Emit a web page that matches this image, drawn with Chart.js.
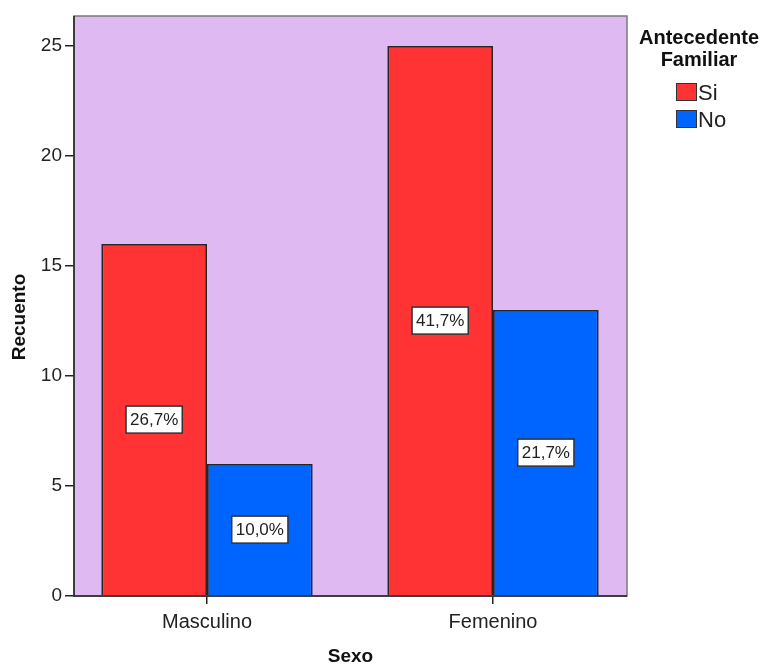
<!DOCTYPE html>
<html>
<head>
<meta charset="utf-8">
<script src="https://cdn.jsdelivr.net/npm/chart.js@4/dist/chart.umd.min.js"></script>
<style>
  html, body { margin: 0; padding: 0; background: #fff; }
</style>
</head>
<body>
<canvas id="myChart" width="768" height="666"></canvas>
<script>
// data
const categories = ["Masculino", "Femenino"];
const seriesNames = ["Si", "No"];
const siValues = [16, 25];
const noValues = [6, 13];
const yTicks = [0, 5, 10, 15, 20, 25];
const legendTitle = ["Antecedente", "Familiar"];

const FONT = "'Liberation Sans', Arial, sans-serif";
const colors = ["rgb(255,51,51)", "rgb(0,100,255)"];
const total = siValues.concat(noValues).reduce((a, b) => a + b, 0);
const pct = v => (v / total * 100).toFixed(1).replace(".", ",") + "%";

const ctx = document.getElementById("myChart").getContext("2d");

// plot background + frame, bar percentage boxes, legend, y title
const decor = {
  id: "decor",
  beforeDraw(chart) {
    const { ctx, chartArea: a } = chart;
    ctx.save();
    ctx.fillStyle = "#dfb9f2";
    ctx.fillRect(a.left, a.top, a.right - a.left, a.bottom - a.top);
    ctx.restore();
  },
  afterDatasetsDraw(chart) {
    const { ctx, chartArea: a } = chart;
    ctx.save();
    // frame
    ctx.strokeStyle = "#7a7a7a";
    ctx.lineWidth = 1.5;
    ctx.strokeRect(a.left, a.top, a.right - a.left, a.bottom - a.top);
    ctx.strokeStyle = "#222";
    ctx.beginPath();
    ctx.moveTo(a.left, a.top);
    ctx.lineTo(a.left, a.bottom);
    ctx.lineTo(a.right, a.bottom);
    ctx.stroke();

    // percentage labels
    ctx.font = "17px " + FONT;
    ctx.textAlign = "center";
    ctx.textBaseline = "middle";
    chart.data.datasets.forEach((ds, di) => {
      chart.getDatasetMeta(di).data.forEach((bar, i) => {
        const txt = pct(ds.data[i].y);
        const w = ctx.measureText(txt).width + 8;
        const h = 27;
        const cx = bar.x, cy = (bar.y + bar.base) / 2;
        ctx.fillStyle = "#fff";
        ctx.fillRect(cx - w / 2, cy - h / 2, w, h);
        ctx.strokeStyle = "#333";
        ctx.lineWidth = 1.5;
        ctx.strokeRect(cx - w / 2, cy - h / 2, w, h);
        ctx.fillStyle = "#222";
        ctx.fillText(txt, cx, cy + 1);
      });
    });

    // legend
    ctx.fillStyle = "#111";
    ctx.font = "bold 20px " + FONT;
    legendTitle.forEach((t, i) => ctx.fillText(t, 699, 38 + i * 22));
    ctx.textAlign = "left";
    ctx.font = "22px " + FONT;
    seriesNames.forEach((n, i) => {
      const y = 83 + i * 27;
      ctx.fillStyle = colors[i];
      ctx.fillRect(676, y, 21, 18);
      ctx.strokeStyle = "#333";
      ctx.lineWidth = 1;
      ctx.strokeRect(676.5, y + 0.5, 20, 17);
      ctx.fillStyle = "#222";
      ctx.fillText(n, 698, y + 11);
    });

    // y axis title
    ctx.translate(20, 317);
    ctx.rotate(-Math.PI / 2);
    ctx.textAlign = "center";
    ctx.font = "bold 19px " + FONT;
    ctx.fillStyle = "#111";
    ctx.fillText("Recuento", 0, 0);
    ctx.restore();
  }
};

const chart = new Chart(ctx, {
  type: "bar",
  data: {
    datasets: [
      {
        label: seriesNames[0],
        data: siValues.map((v, i) => ({ x: i, y: v })),
        backgroundColor: colors[0],
        borderColor: "#262626",
        borderWidth: 1.8,
      },
      {
        label: seriesNames[1],
        data: noValues.map((v, i) => ({ x: i, y: v })),
        backgroundColor: colors[1],
        borderColor: "#262626",
        borderWidth: 1.8,
      },
    ],
  },
  options: {
    responsive: false,
    animation: false,
    devicePixelRatio: 1,
    categoryPercentage: 0.739,
    barPercentage: 1,
    layout: { padding: { top: 16, right: 141, left: 0, bottom: 0 } },
    plugins: {
      legend: { display: false },
      tooltip: { enabled: false },
    },
    scales: {
      x: {
        type: "linear",
        min: -0.465,
        max: 1.4685,
        offset: false,
        afterBuildTicks: s => { s.ticks = categories.map((c, i) => ({ value: i })); },
        afterFit: s => { s.height = 70; },
        ticks: {
          callback: v => categories[v] ?? "",
          font: { family: FONT, size: 20 },
          color: "#222",
          padding: 6,
          autoSkip: false,
          maxRotation: 0,
        },
        grid: { offset: false, drawOnChartArea: false, tickLength: 8, color: "#222", lineWidth: 1.5 },
        border: { display: false },
        title: {
          display: true,
          text: "Sexo",
          color: "#111",
          font: { family: FONT, size: 19, weight: "bold", lineHeight: 1 },
          padding: 0,
        },
      },
      y: {
        min: 0,
        max: 26.36,
        afterBuildTicks: s => { s.ticks = yTicks.map(v => ({ value: v })); },
        afterFit: s => { s.width = 74; },
        ticks: {
          font: { family: FONT, size: 19 },
          color: "#222",
          padding: 3,
        },
        grid: { drawOnChartArea: false, tickLength: 9, color: "#222", lineWidth: 1.5 },
        border: { display: false },
      },
    },
  },
  plugins: [decor],
});
</script>
</body>
</html>
